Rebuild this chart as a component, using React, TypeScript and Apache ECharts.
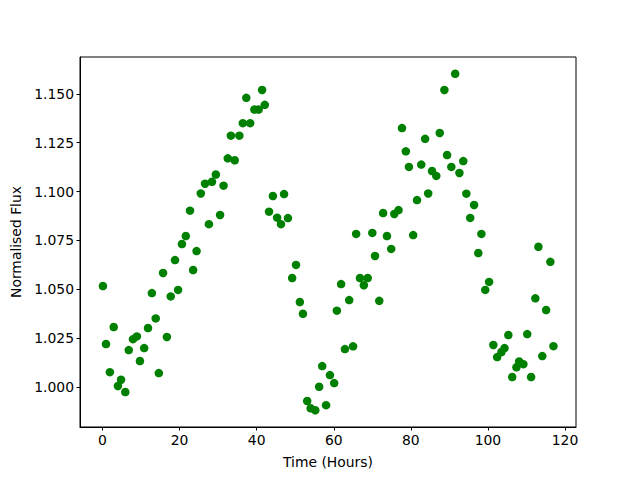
import React, { useEffect, useRef } from "react";
import * as echarts from "echarts";

const timeHours = [
  0.1, 0.9, 1.9, 2.9, 4.0, 4.8, 5.9, 6.8, 7.9, 8.9, 9.7, 10.8, 11.8, 12.8, 13.8, 14.6, 15.7, 16.7, 17.7, 18.8,
  19.6, 20.6, 21.6, 22.7, 23.5, 24.4, 25.5, 26.6, 27.6, 28.4, 29.4, 30.5, 31.4, 32.5, 33.3, 34.3, 35.5, 36.4,
  37.3, 38.3, 39.4, 40.5, 41.4, 42.1, 43.2, 44.2, 45.3, 46.3, 47.1, 48.1, 49.2, 50.2, 51.2, 52.0, 53.1, 54.0,
  55.2, 56.2, 57.0, 58.0, 59.0, 60.1, 60.8, 61.9, 62.9, 64.0, 65.0, 65.8, 66.8, 67.8, 68.8, 70.0, 70.7, 71.8,
  72.8, 73.8, 74.9, 75.7, 76.8, 77.7, 78.7, 79.5, 80.6, 81.6, 82.7, 83.7, 84.5, 85.5, 86.6, 87.5, 88.7, 89.4,
  90.5, 91.5, 92.6, 93.6, 94.4, 95.4, 96.4, 97.5, 98.3, 99.3, 100.3, 101.4, 102.4, 103.5, 104.3, 105.3, 106.3,
  107.4, 108.1, 109.2, 110.2, 111.2, 112.3, 113.1, 114.1, 115.1, 116.2, 117.0,
];

const normalisedFlux = [
  1.0516, 1.0219, 1.0075, 1.0306, 1.0004, 1.0036, 0.9973, 1.0188, 1.0244, 1.0258, 1.0132, 1.0198, 1.0301, 1.048,
  1.035, 1.007, 1.0583, 1.0255, 1.0463, 1.0649, 1.0496, 1.0731, 1.0772, 1.0902, 1.0598, 1.0695, 1.099, 1.104,
  1.0833, 1.105, 1.1087, 1.088, 1.103, 1.117, 1.1286, 1.116, 1.1286, 1.135, 1.148, 1.135, 1.142, 1.142, 1.152,
  1.1444, 1.0897, 1.0977, 1.0866, 1.0833, 1.0987, 1.0864, 1.0557, 1.0624, 1.0434, 1.0374, 0.9927, 0.989, 0.988,
  1.0, 1.0106, 0.9906, 1.006, 1.0019, 1.039, 1.0526, 1.0193, 1.0444, 1.0207, 1.0783, 1.0557, 1.052, 1.0557,
  1.0788, 1.067, 1.044, 1.089, 1.0772, 1.0706, 1.0885, 1.0905, 1.1325, 1.1206, 1.1126, 1.0777, 1.0956, 1.1138,
  1.127, 1.099, 1.1105, 1.108, 1.13, 1.152, 1.1187, 1.1126, 1.1603, 1.1095, 1.1156, 1.0989, 1.0865, 1.0931,
  1.0685, 1.0783, 1.0496, 1.0537, 1.0214, 1.0152, 1.0178, 1.0198, 1.0265, 1.005, 1.01, 1.013, 1.0116, 1.027,
  1.005, 1.0453, 1.0717, 1.0157, 1.0393, 1.064, 1.0208,
];

const xTicks = [0, 20, 40, 60, 80, 100, 120];
const yTicks = [1.0, 1.025, 1.05, 1.075, 1.1, 1.125, 1.15];

const FONT = "DejaVu Sans";

export default function App() {
  const ref = useRef<HTMLDivElement>(null);
  useEffect(() => {
    if (!ref.current) return;
    const chart = echarts.init(ref.current, undefined, { renderer: "svg" });
    const points = timeHours.map((t, i) => [t, normalisedFlux[i]]);
    chart.setOption({
      animation: false,
      backgroundColor: "#ffffff",
      grid: {
        left: 80,
        right: 64,
        top: 57,
        bottom: 53,
        show: true,
        borderColor: "#000000",
        borderWidth: 1,
        backgroundColor: "transparent",
      },
      xAxis: {
        type: "value",
        min: -5.85,
        max: 122.85,
        name: "Time (Hours)",
        nameLocation: "middle",
        nameGap: 28,
        nameTextStyle: { fontFamily: FONT, fontSize: 13.9, color: "#000" },
        axisLine: { show: true, onZero: false, lineStyle: { color: "#000", width: 1 } },
        axisTick: { show: true, length: 3.5, inside: false, customValues: xTicks, lineStyle: { color: "#000" } },
        axisLabel: {
          customValues: xTicks,
          margin: 6,
          fontFamily: FONT,
          fontSize: 13.9,
          color: "#000",
        },
        splitLine: { show: false },
      },
      yAxis: {
        type: "value",
        min: 0.9794,
        max: 1.1689,
        name: "Normalised Flux",
        nameLocation: "middle",
        nameGap: 56,
        nameTextStyle: { fontFamily: FONT, fontSize: 13.9, color: "#000" },
        axisLine: { show: true, onZero: false, lineStyle: { color: "#000", width: 1 } },
        axisTick: { show: true, length: 3.5, inside: false, customValues: yTicks, lineStyle: { color: "#000" } },
        axisLabel: {
          customValues: yTicks,
          margin: 6,
          fontFamily: FONT,
          fontSize: 13.9,
          color: "#000",
          formatter: (v: number) => v.toFixed(3),
        },
        splitLine: { show: false },
      },
      series: [
        {
          type: "scatter",
          data: points,
          symbol: "circle",
          symbolSize: 8.5,
          itemStyle: { color: "#008000", opacity: 1 },
        },
      ],
    });
    return () => chart.dispose();
  }, []);
  return <div ref={ref} style={{ width: 640, height: 480, position: "absolute", left: 0, top: 0 }} />;
}
